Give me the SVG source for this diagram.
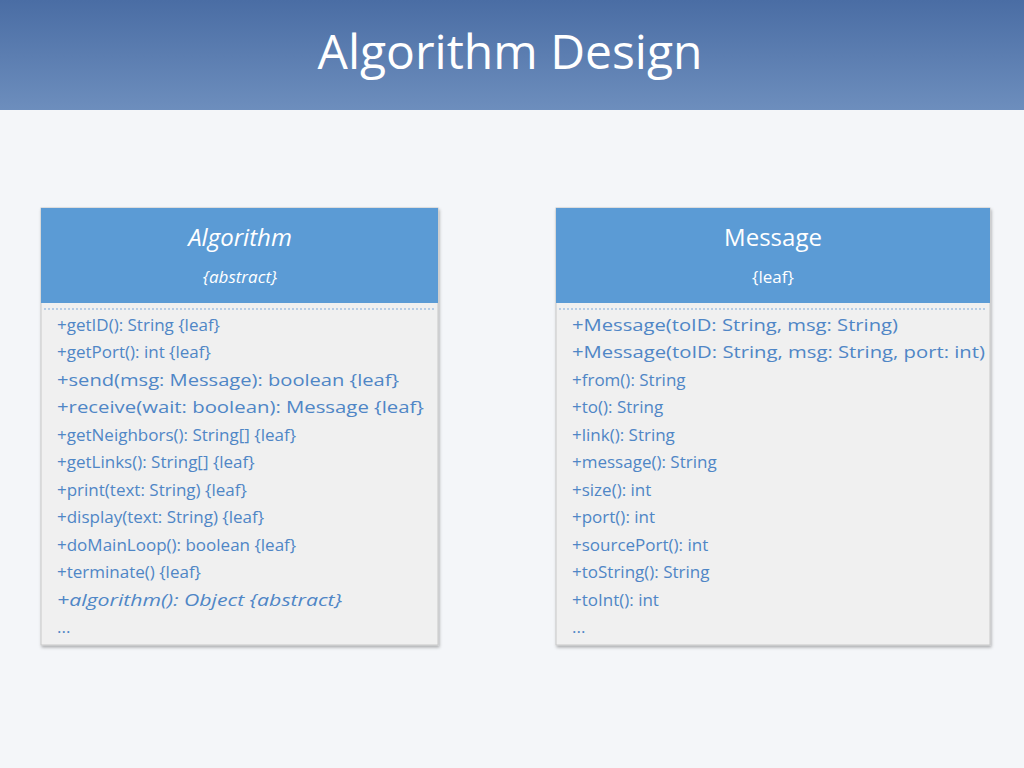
<svg xmlns="http://www.w3.org/2000/svg" width="1024" height="768" viewBox="0 0 1024 768">
<defs>
<linearGradient id="hg" x1="0" y1="0" x2="0" y2="1"><stop offset="0" stop-color="#4a6da4"/><stop offset="1" stop-color="#6d8ebd"/></linearGradient>
<filter id="sh" x="-5%" y="-5%" width="110%" height="110%"><feDropShadow dx="1" dy="2" stdDeviation="1.5" flood-color="#000" flood-opacity="0.3"/></filter>
</defs>
<style>
text{font-family:"Open Sans","Noto Sans",sans-serif}
.m{font-size:17px;fill:#4f86c6}
.h{fill:#fff;text-anchor:middle}
.box{fill:#f0f0f0;stroke:#c8c8c8}
.hd{fill:#5b9bd5}
.sep{stroke:#7fa9d9;stroke-dasharray:2,2;stroke-width:1}
</style>
<rect width="1024" height="768" fill="#f4f6f9"/>
<rect width="1024" height="110" fill="url(#hg)"/>
<text x="510" y="69" class="h" font-size="48" style="font-family:'Open Sans',sans-serif">Algorithm Design</text>
<g id="algorithm">
<rect x="41" y="208" width="397" height="437" class="box" filter="url(#sh)"/>
<rect x="41" y="208" width="397" height="95" class="hd"/>
<line x1="44" y1="309" x2="435" y2="309" class="sep"/>
<text x="240" y="246" class="h" font-size="24" font-style="italic">Algorithm</text>
<text x="240" y="283" class="h" font-size="17" font-style="italic">{abstract}</text>
<g class="m">
<text x="57" y="331">+getID(): String {leaf}</text>
<text x="57" y="358">+getPort(): int {leaf}</text>
<text x="57" y="386" textLength="342" lengthAdjust="spacingAndGlyphs">+send(msg: Message): boolean {leaf}</text>
<text x="57" y="413" textLength="367" lengthAdjust="spacingAndGlyphs">+receive(wait: boolean): Message {leaf}</text>
<text x="57" y="441">+getNeighbors(): String[] {leaf}</text>
<text x="57" y="468">+getLinks(): String[] {leaf}</text>
<text x="57" y="496">+print(text: String) {leaf}</text>
<text x="57" y="523">+display(text: String) {leaf}</text>
<text x="57" y="551">+doMainLoop(): boolean {leaf}</text>
<text x="57" y="578">+terminate() {leaf}</text>
<text x="57" y="606" font-style="italic" textLength="285" lengthAdjust="spacingAndGlyphs">+algorithm(): Object {abstract}</text>
<text x="57" y="633">...</text>
</g>
</g>
<g id="message">
<rect x="556" y="208" width="434" height="437" class="box" filter="url(#sh)"/>
<rect x="556" y="208" width="434" height="95" class="hd"/>
<line x1="559" y1="309" x2="987" y2="309" class="sep"/>
<text x="773" y="246" class="h" font-size="24">Message</text>
<text x="773" y="283" class="h" font-size="17">{leaf}</text>
<g class="m">
<text x="572" y="331" textLength="326" lengthAdjust="spacingAndGlyphs">+Message(toID: String, msg: String)</text>
<text x="572" y="358" textLength="413" lengthAdjust="spacingAndGlyphs">+Message(toID: String, msg: String, port: int)</text>
<text x="572" y="386">+from(): String</text>
<text x="572" y="413">+to(): String</text>
<text x="572" y="441">+link(): String</text>
<text x="572" y="468">+message(): String</text>
<text x="572" y="496">+size(): int</text>
<text x="572" y="523">+port(): int</text>
<text x="572" y="551">+sourcePort(): int</text>
<text x="572" y="578">+toString(): String</text>
<text x="572" y="606">+toInt(): int</text>
<text x="572" y="633">...</text>
</g>
</g>
<g id="connectors"/>
</svg>
